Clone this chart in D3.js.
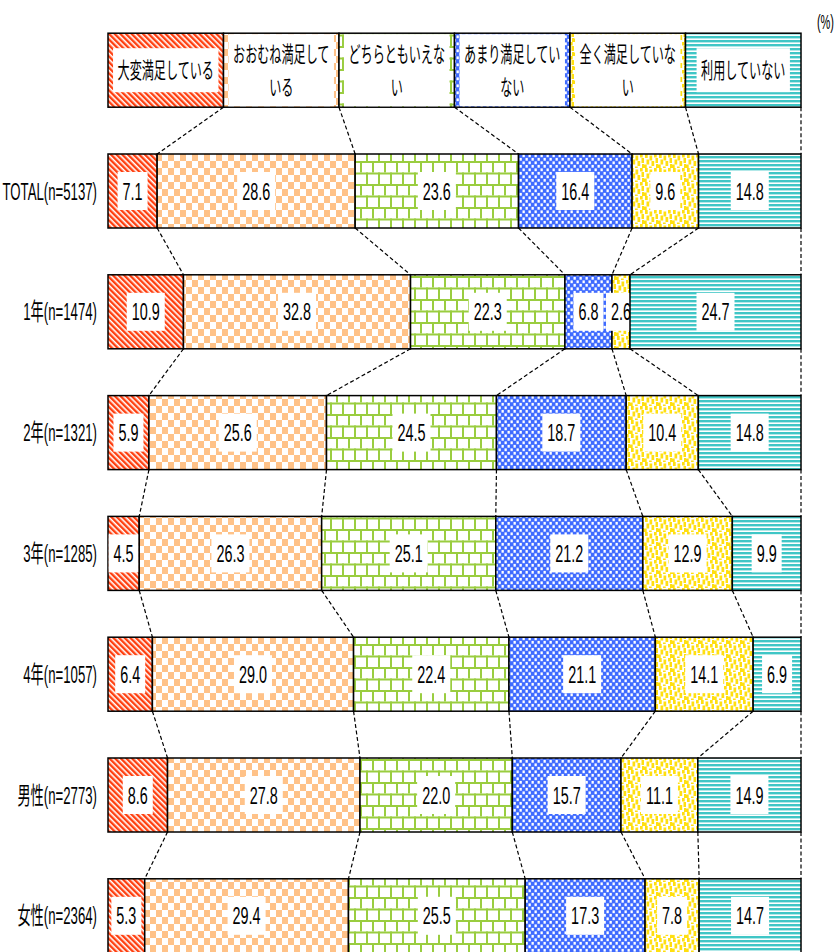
<!DOCTYPE html>
<html>
<head>
<meta charset="utf-8">
<script src="https://cdn.jsdelivr.net/npm/d3@7"></script>
<style>
  body { margin: 0; background: #fff; }
  svg { display: block; }
</style>
</head>
<body>
<div class="canvas"></div>
<script>
// categories (legend order) and their two-line legend layout
const categories = ['大変満足している', 'おおむね満足している', 'どちらともいえない', 'あまり満足していない', '全く満足していない', '利用していない']
const legendLines = [['大変満足している'], ['おおむね満足して', 'いる'], ['どちらともいえな', 'い'], ['あまり満足してい', 'ない'], ['全く満足していな', 'い'], ['利用していない']]

// row labels
const groups = ['TOTAL(n=5137)', '1年(n=1474)', '2年(n=1321)', '3年(n=1285)', '4年(n=1057)', '男性(n=2773)', '女性(n=2364)']

// series values (%), one per category, in row order
const verySatisfied   = [7.1, 10.9, 5.9, 4.5, 6.4, 8.6, 5.3]
const mostlySatisfied = [28.6, 32.8, 25.6, 26.3, 29.0, 27.8, 29.4]
const neutral         = [23.6, 22.3, 24.5, 25.1, 22.4, 22.0, 25.5]
const notVery         = [16.4, 6.8, 18.7, 21.2, 21.1, 15.7, 17.3]
const notAtAll        = [9.6, 2.6, 10.4, 12.9, 14.1, 11.1, 7.8]
const notUsed         = [14.8, 24.7, 14.8, 9.9, 6.9, 14.9, 14.7]

const series = [verySatisfied, mostlySatisfied, neutral, notVery, notAtAll, notUsed]

const dims = { width: 836, height: 952 }
const SQ = 0.55   // horizontal squeeze of text
const SQV = 0.6   // squeeze for the value labels
const FONT = "'Liberation Sans', 'Noto Sans CJK JP', sans-serif"

const svg = d3.select('.canvas')
              .append('svg')
              .attr('width', dims.width)
              .attr('height', dims.height)

// table for the stack
const table = groups.map((g, i) => {
  const row = { group: g }
  categories.forEach((c, k) => row[c] = series[k][i])
  return row
})

const stack = d3.stack()
                .keys(categories)
                .offset(d3.stackOffsetExpand)
const stacked = stack(table)

const x = d3.scaleLinear()
            .domain([0, 1])
            .range([108, 801])

const LEGEND = '__legend'
const y = d3.scaleBand()
            .domain([LEGEND, ...groups])
            .range([33.2, 952.8])
            .paddingInner(46.8 / 120.8)
            .paddingOuter(0)

// patterns
const defs = svg.append('defs')
const pat = (id, w, h, tf) => {
  const p = defs.append('pattern')
                .attr('id', id)
                .attr('patternUnits', 'userSpaceOnUse')
                .attr('width', w)
                .attr('height', h)
  if (tf) p.attr('patternTransform', tf)
  return p
}
const box = (p, x0, y0, w, h, fill) => p.append('rect').attr('x', x0).attr('y', y0).attr('width', w).attr('height', h).attr('fill', fill)

// red diagonal stripes
let p = pat('p0', 4, 4, 'rotate(-45)')
box(p, 0, 0, 4, 4, '#fff'); box(p, 0, 0, 2.4, 4, '#ff3f0f')
// orange checkerboard
p = pat('p1', 12, 14)
box(p, 0, 0, 12, 14, '#fff'); box(p, 0, 0, 6, 7, '#ffc288'); box(p, 6, 7, 6, 7, '#ffc288')
// green bricks
p = pat('p2', 12, 23)
box(p, 0, 0, 12, 23, '#fff')
box(p, 0, 0, 12, 2, '#9acd40'); box(p, 0, 11.5, 12, 2, '#9acd40')
box(p, 0, 0, 2, 11.5, '#9acd40'); box(p, 6, 11.5, 2, 11.5, '#9acd40')
// blue small checker
p = pat('p3', 6, 7)
box(p, 0, 0, 6, 7, '#3f6bff'); box(p, 0.5, 0.4, 2.3, 2.8, '#fff'); box(p, 3.5, 3.9, 2.3, 2.8, '#fff')
// yellow confetti
p = pat('p4', 14, 14)
box(p, 0, 0, 14, 14, '#fff')
;[[1, 1], [5.5, 3.5], [10, 0.5], [2.5, 7.5], [7.5, 9], [11.5, 6], [0, 12.5], [5, 14.5], [12, 12]].forEach(d => box(p, d[0], d[1] - 2, 2.7, 5, '#ffdf10'))
// teal horizontal stripes
p = pat('p5', 4, 4)
box(p, 0, 0, 4, 4, '#fff'); box(p, 0, 0, 4, 2.4, '#3fc6c6')

// squeezed text helper
const label = (sel, tx, ty, str, size, anchor, sq) =>
  sel.append('text')
     .attr('transform', `translate(${tx},${ty}) scale(${sq || SQ},1)`)
     .attr('text-anchor', anchor || 'middle')
     .attr('dy', '0.36em')
     .attr('font-family', FONT)
     .attr('font-size', size)
     .attr('fill', '#000')
     .text(str)

// legend bar
const legend = svg.append('g').attr('class', 'legend')
const lw = 1 / categories.length
categories.forEach((c, k) => {
  const x0 = x(k * lw), x1 = x((k + 1) * lw)
  const y0 = y(LEGEND), h = y.bandwidth()
  const g = legend.append('g')
  g.append('rect')
   .attr('x', x0).attr('y', y0).attr('width', x1 - x0).attr('height', h)
   .attr('fill', `url(#p${k})`)
   .attr('stroke', '#000').attr('stroke-width', 1.5)
  const bg = g.append('rect').attr('fill', '#fff')
  const lines = legendLines[k]
  const cx = (x0 + x1) / 2, cy = y0 + h / 2
  let tw = 0
  lines.forEach((t, j) => {
    const ty = cy + (j - (lines.length - 1) / 2) * 33
    const node = label(g, cx, ty, t, 22).node()
    tw = Math.max(tw, node.getComputedTextLength() * SQ)
  })
  const bw = Math.min(x1 - x0 - 6, tw + 9)
  const bh = Math.min(h - 2, lines.length * 33 + 11)
  bg.attr('x', cx - bw / 2).attr('y', cy - bh / 2).attr('width', bw).attr('height', bh)
})

// bars
const layers = svg.append('g').attr('class', 'bars')
                  .selectAll('g')
                  .data(stacked)
                  .enter()
                  .append('g')
                  .attr('fill', (d, k) => `url(#p${k})`)

const segs = layers.selectAll('g')
                   .data(d => d.map(s => ({ s, key: d.key })))
                   .enter()
                   .append('g')

segs.append('rect')
    .attr('x', d => x(d.s[0]))
    .attr('y', d => y(d.s.data.group))
    .attr('width', d => x(d.s[1]) - x(d.s[0]))
    .attr('height', y.bandwidth())
    .attr('stroke', '#000')
    .attr('stroke-width', 1.5)

segs.each(function (d) {
  const g = d3.select(this)
  const cx = (x(d.s[0]) + x(d.s[1])) / 2
  const cy = y(d.s.data.group) + y.bandwidth() / 2
  const bg = g.append('rect').attr('fill', '#fff')
  const node = label(g, cx, cy, d3.format('.1f')(d.s.data[d.key]), 24, 'middle', SQV).node()
  const tw = node.getComputedTextLength() * SQV
  bg.attr('x', cx - tw / 2 - 5).attr('y', cy - 19).attr('width', tw + 10).attr('height', 38)
})

// row labels
const rows = svg.append('g').attr('class', 'rows')
groups.forEach(gname => label(rows, 97, y(gname) + y.bandwidth() / 2, gname, 24, 'end'))

// dashed connectors between consecutive bars
const bounds = [categories.map((c, k) => (k + 1) * lw)]
groups.forEach((g, i) => bounds.push(stacked.map(layer => layer[i][1])))
const rowKeys = [LEGEND, ...groups]
const links = []
for (let i = 0; i < rowKeys.length - 1; i++) {
  for (let k = 0; k < categories.length; k++) {
    links.push({ x1: x(bounds[i][k]), y1: y(rowKeys[i]) + y.bandwidth(), x2: x(bounds[i + 1][k]), y2: y(rowKeys[i + 1]) })
  }
}
svg.append('g').attr('class', 'links')
   .selectAll('line')
   .data(links)
   .enter()
   .append('line')
   .attr('x1', d => d.x1).attr('y1', d => d.y1)
   .attr('x2', d => d.x2).attr('y2', d => d.y2)
   .attr('stroke', '#000')
   .attr('stroke-width', 1.2)
   .attr('stroke-dasharray', '4,2.5')

// unit
label(svg, 834, 22, '(%)', 20, 'end')
</script>
</body>
</html>
